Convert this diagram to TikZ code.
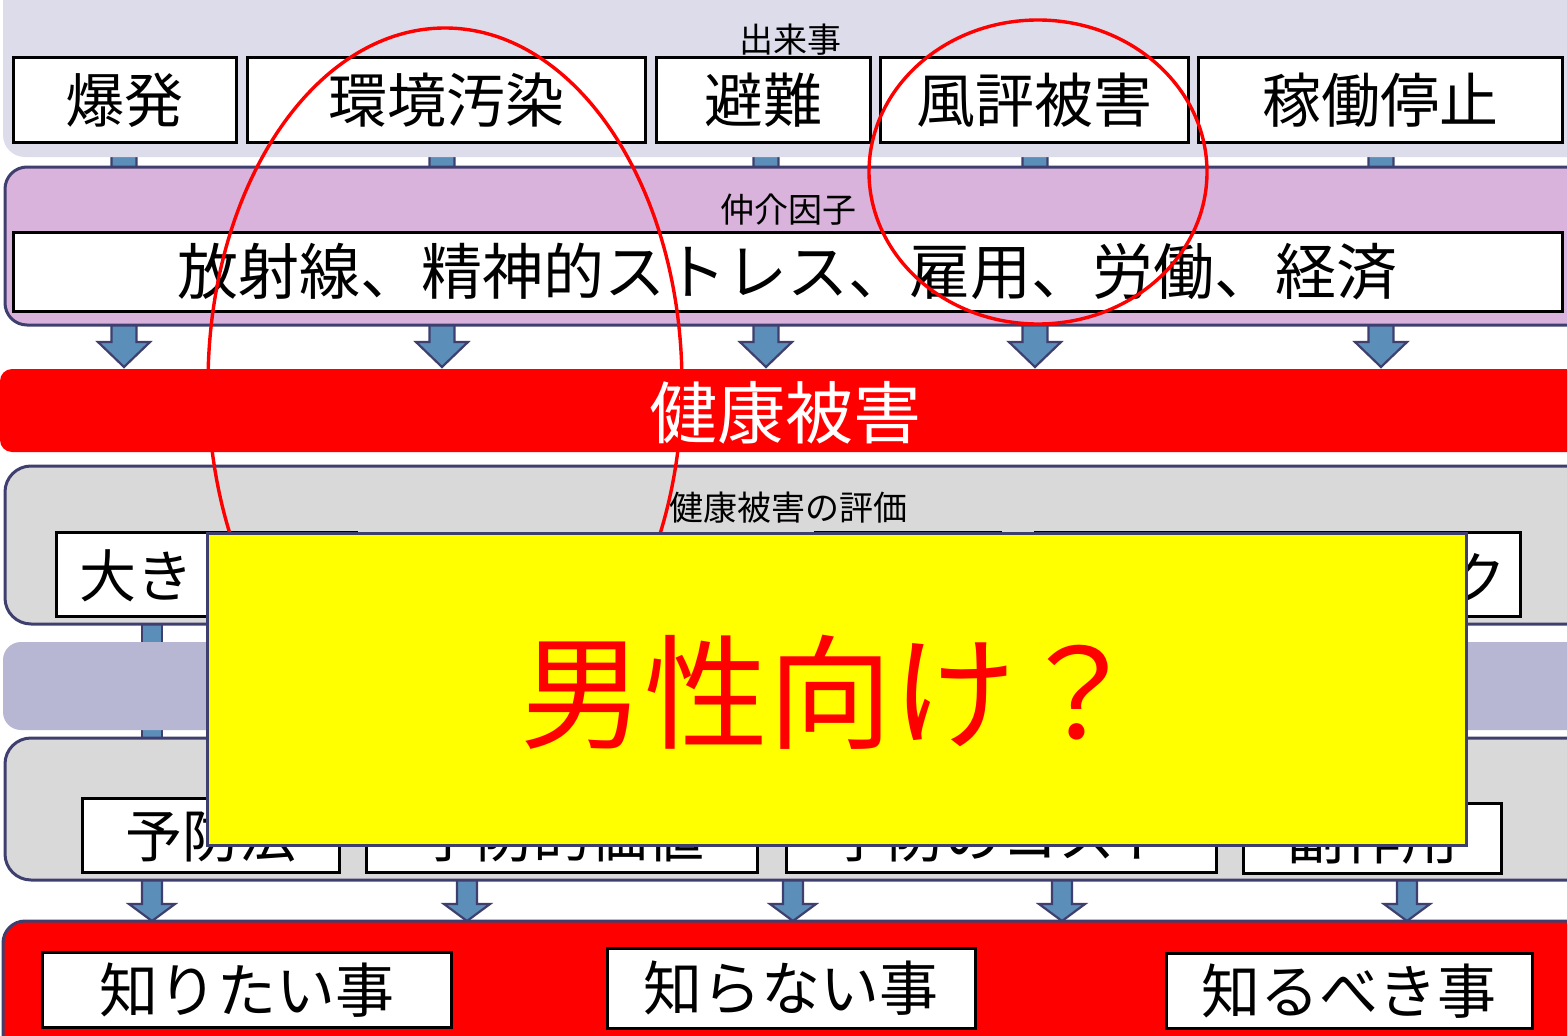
\documentclass[tikz,border=0pt]{standalone}
\usepackage{fontspec}
\setmainfont{Noto Sans CJK JP}
\usetikzlibrary{calc}
\definecolor{bandA}{HTML}{DCDCEA}
\definecolor{bandB}{HTML}{D9B3DB}
\definecolor{bandG}{HTML}{D9D9D9}
\definecolor{bandD}{HTML}{B7B7D4}
\definecolor{navy}{HTML}{3F3F6F}
\definecolor{arrowblue}{HTML}{5B8EB8}
\definecolor{pureRed}{HTML}{FF0000}
\definecolor{pureYellow}{HTML}{FFFF00}
\newcommand\blockarrow[6]{%
  \draw[blockarr] ({#1-#5},{#2}) -- ({#1-#5},{#3}) -- ({#1-#6},{#3}) -- ({#1},{#4})
    -- ({#1+#6},{#3}) -- ({#1+#5},{#3}) -- ({#1+#5},{#2}) -- cycle;}
\begin{document}
\begin{tikzpicture}[x=1pt,y=-1pt,
  blockarr/.style={fill=arrowblue,draw=navy,line width=2.2pt,line join=miter},
  bandborder/.style={draw=navy,line width=3pt},
  wbox/.style={draw=black,line width=3pt,fill=white,inner sep=0pt,anchor=center},
  bigtxt/.style={font=\fontsize{59}{62}\selectfont},
  midtxt/.style={font=\fontsize{57}{60}\selectfont},
  lbl/.style={font=\fontsize{34}{36}\selectfont,inner sep=0pt},
  circ/.style={draw=pureRed,line width=3.4pt}]
\useasboundingbox (0,0) rectangle (1567,1036);
\fill[white] (0,0) rectangle (1567,1036);

% ---- block arrows (behind bands)
\foreach \ax in {124,442,766,1035,1381} {\blockarrow{\ax}{140}{342}{367}{12.5}{26}}
\fill[arrowblue,draw=navy,line width=2pt] (142,615) rectangle (162,745);
\foreach \ax in {152,467,793,1062,1407} {\blockarrow{\ax}{870}{904}{921}{10}{23}}

% ---- band 1 : events
\fill[bandA,rounded corners=22pt] (3,-30) rectangle (1590,157);
\node[lbl] (lblA) at (790,40) {出来事};
\node[wbox,bigtxt,minimum width=223pt,minimum height=85pt] (e1) at (124.5,100) {爆発};
\node[wbox,bigtxt,minimum width=398pt,minimum height=85pt] (e2) at (446,100) {環境汚染};
\node[wbox,bigtxt,minimum width=214pt,minimum height=85pt] (e3) at (763,100) {避難};
\node[wbox,bigtxt,minimum width=308pt,minimum height=85pt] (e4) at (1034,100) {風評被害};
\node[wbox,bigtxt,minimum width=364pt,minimum height=85pt] (e5) at (1380,100) {稼働停止};

% ---- band 2 : mediators
\draw[bandborder,fill=bandB,rounded corners=22pt] (5,167) rectangle (1595,325);
\node[lbl] (lblB) at (788,210) {仲介因子};
\node[wbox,font=\fontsize{61}{64}\selectfont,minimum width=1549pt,minimum height=79pt] (med) at (787.5,271.5) {放射線、精神的ストレス、雇用、労働、経済};

% ---- health damage bar
\fill[pureRed,rounded corners=12pt] (0,369) rectangle (1590,452);
\node[font=\fontsize{68}{70}\selectfont,text=white,inner sep=0pt] (harm) at (785,413) {健康被害};

% ---- band 3 : evaluation
\draw[bandborder,fill=bandG,rounded corners=26pt] (5,466) rectangle (1595,624);
\node[lbl] (lblC) at (788,508) {健康被害の評価};
\node[wbox,minimum width=300pt,minimum height=84pt] (ev1) at (206,574) {};
\node[midtxt,inner sep=0pt,anchor=west] (ev1t) at (79,576) {大き};
\node[wbox,minimum width=185pt,minimum height=84pt] (ev3) at (907.5,574) {};
\node[wbox,minimum width=485pt,minimum height=84pt] (ev4) at (1277.5,574) {};
\node[midtxt,inner sep=0pt] (ev4t) at (1478,578) {ク};

% ---- band 4
\fill[bandD,rounded corners=18pt] (3,642) rectangle (1590,730);

% ---- band 5 : prevention
\draw[bandborder,fill=bandG,rounded corners=26pt] (5,738) rectangle (1595,880);
\node[wbox,midtxt,minimum width=257pt,minimum height=74pt] (p1) at (210.5,835.5) {予防法};
\node[wbox,midtxt,minimum width=391pt,minimum height=74pt] (p2) at (562,835.5) {予防的価値};
\node[wbox,midtxt,minimum width=430pt,minimum height=74pt] (p3) at (1001,835.5) {予防のコスト};
\node[wbox,midtxt,minimum width=258pt,minimum height=70pt] (p4) at (1372.5,838) {副作用};

% ---- bottom red band
\draw[bandborder,fill=pureRed,rounded corners=22pt] (3,921) rectangle (1595,1080);
\node[wbox,bigtxt,minimum width=409pt,minimum height=75pt] (k1) at (246.5,990) {知りたい事};
\node[wbox,bigtxt,minimum width=368pt,minimum height=80pt] (k2) at (791,988) {知らない事};
\node[wbox,bigtxt,minimum width=366pt,minimum height=75pt] (k3) at (1349,991) {知るべき事};

% ---- red ellipses
\draw[circ] (445,384) ellipse [x radius=237pt, y radius=356pt];
\draw[circ] (1038,172) ellipse [x radius=169pt, y radius=152pt];

% ---- yellow overlay
\node[draw=navy,line width=3pt,fill=pureYellow,minimum width=1259pt,minimum height=312pt,inner sep=0pt] (note) at (836.5,689) {};
\node[font=\fontsize{124}{126}\selectfont,text=pureRed,inner sep=0pt] (notet) at (830,692) {男性向け？};
\end{tikzpicture}
\end{document}
